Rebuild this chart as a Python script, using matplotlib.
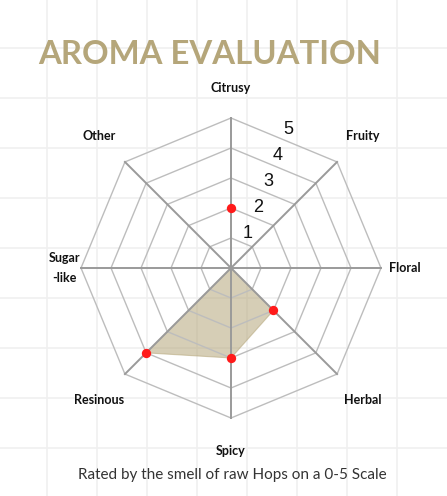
import numpy as np
import matplotlib.pyplot as plt

categories = ['Citrusy', 'Fruity', 'Floral', 'Herbal', 'Spicy', 'Resinous', 'Sugar\n-like', 'Other']
scores = [2, 0, 0, 2, 3, 4, 0, 0]
tick_values = [1, 2, 3, 4, 5]

gold = '#b5a67a'
W, H = 447, 496

fig = plt.figure(figsize=(W / 100, H / 100), dpi=100)

# faint graph-paper background
bg = fig.add_axes([0, 0, 1, 1])
bg.set_xlim(0, W)
bg.set_ylim(H, 0)
bg.axis('off')
for x in np.arange(47, W, 50):
    bg.axvline(x, color='#f0f0f0', lw=1.2)
for y in np.arange(48, H, 50):
    bg.axhline(y, color='#f0f0f0', lw=1.2)

# radar axes: centre at (231, 268) px, 30 px per unit
cx, cy, span = 231, 268, 7
ax = fig.add_axes([(cx - span * 30) / W, (H - cy - span * 30) / H, 2 * span * 30 / W, 2 * span * 30 / H])
ax.set_xlim(-span, span)
ax.set_ylim(-span, span)
ax.axis('off')

n = len(categories)
ang = np.pi / 2 - 2 * np.pi * np.arange(n) / n
ux, uy = np.cos(ang), np.sin(ang)

for t in tick_values:
    ax.plot(np.append(ux, ux[0]) * t, np.append(uy, uy[0]) * t, color='#bdbdbd', lw=1, zorder=3)
for i in range(n):
    ax.plot([0, ux[i] * 5], [0, uy[i] * 5], color='#9a9a9a', lw=1.4, zorder=3)

s = np.array(scores, dtype=float)
ax.fill(ux * s, uy * s, color=gold, alpha=0.55, lw=0.8, ec=gold, zorder=2)
m = s > 0
ax.scatter(ux[m] * s[m], uy[m] * s[m], s=45, color='#ff1a1a', zorder=5, linewidths=0)

for t in tick_values:
    ax.text(0.23 + 0.335 * t, 0.3 + 0.86 * t, str(t), fontsize=13, family='Liberation Sans',
            ha='center', va='center', color='#111111', zorder=6)

label_r = [6.0, 6.2, 5.8, 6.2, 6.1, 6.2, 5.55, 6.2]
for i, name in enumerate(categories):
    ax.text(ux[i] * label_r[i], uy[i] * label_r[i], name, fontsize=9, fontweight='bold',
            family='Lato', ha='center', va='center', color='#111111', linespacing=1.9)

fig.text(210 / W, 1 - 55 / H, 'AROMA EVALUATION', fontsize=23.7, fontweight='bold', family='Lato',
         color=gold, ha='center', va='center')
fig.text(232 / W, 1 - 475 / H, 'Rated by the smell of raw Hops on a 0-5 Scale', fontsize=11,
         family='Lato', color='#333333', ha='center', va='center')

fig.savefig('out.png', dpi=100)
